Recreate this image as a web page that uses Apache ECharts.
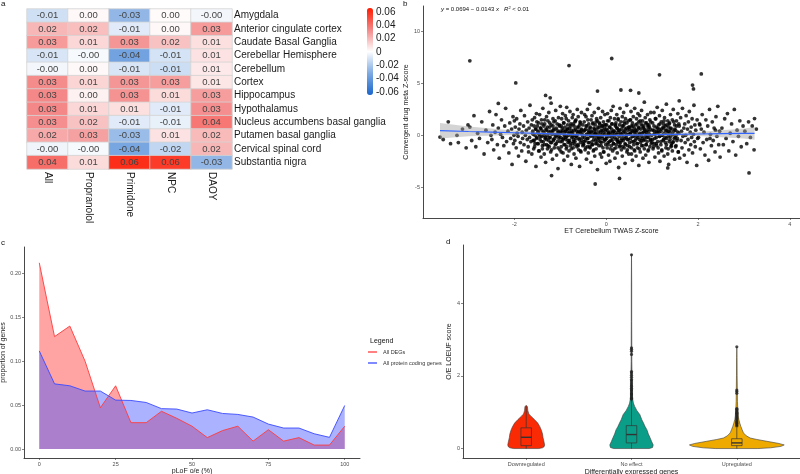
<!DOCTYPE html>
<html><head><meta charset="utf-8">
<script src="https://cdn.jsdelivr.net/npm/echarts@6/dist/echarts.min.js"></script>
<style>html,body{margin:0;padding:0;background:#fff}#c{width:800px;height:474px}</style>
</head><body><div id="c"></div>
<script>
const FONT = 'Liberation Sans, Arial, Helvetica, sans-serif';

// ---------- Panel a: heatmap ----------
const heatCols = ['All','Propranolol','Primidone','NPC','DAOY'];
const heatRows = ['Amygdala','Anterior cingulate cortex','Caudate Basal Ganglia','Cerebellar Hemisphere','Cerebellum','Cortex','Hippocampus','Hypothalamus','Nucleus accumbens basal ganglia','Putamen basal ganglia','Cervical spinal cord','Substantia nigra'];
const heatValues = [
  [-0.012, 0.002,-0.028, 0.001,-0.003],
  [ 0.020, 0.018,-0.008, 0.002, 0.028],
  [ 0.028, 0.011, 0.029, 0.017, 0.009],
  [-0.010,-0.002,-0.037,-0.011, 0.008],
  [-0.003, 0.002,-0.010,-0.013, 0.006],
  [ 0.032, 0.012, 0.029, 0.027, 0.007],
  [ 0.033, 0.004, 0.030, 0.010, 0.027],
  [ 0.033, 0.011, 0.009,-0.008, 0.031],
  [ 0.031, 0.017,-0.008,-0.006, 0.038],
  [ 0.024, 0.026,-0.026, 0.008, 0.019],
  [-0.004,-0.002,-0.035,-0.016, 0.020],
  [ 0.041, 0.010, 0.060, 0.056,-0.028]
];
const colorbarTicks = [-0.06,-0.04,-0.02,0,0.02,0.04,0.06];

// ---------- Panel b: scatter ----------
const scatterCloud = [
[-3.55,-0.4],[-3.44,1.3],[-3.39,-0.8],[-3.25,0.0],[-3.22,-0.7],[-3.13,0.6],[-3.05,-1.2],[-3.01,1.0],
[-2.97,0.8],[-2.93,-0.5],[-2.88,1.9],[-2.84,-1.1],[-2.8,0.2],[-2.76,-0.3],[-2.71,1.3],[-2.66,-1.8],[-2.62,0.5],[-2.58,-0.7],[-2.54,2.3],[-2.51,0.0],
[-2.49,-0.4],[-2.47,1.0],[-2.45,-1.4],[-2.42,0.3],[-2.4,2.0],[-2.37,-0.9],[-2.35,0.7],[-2.33,-2.2],[-2.3,0.1],[-2.28,1.5],[-2.26,-0.2],[-2.23,-1.0],[-2.21,0.9],[-2.19,2.6],[-2.17,-0.6],[-2.14,0.4],[-2.12,-1.7],[-2.1,1.2],[-2.08,-0.3],[-2.06,0.6],[-2.05,-2.8],[-2.03,1.8],[-2.02,-0.8],[-2.01,0.0],[-2.0,1.4],
[-1.99,-0.5],[-1.98,0.8],[-1.96,-1.2],[-1.95,1.6],[-1.94,0.2],[-1.92,-0.1],[-1.91,-2.0],[-1.9,0.6],[-1.88,1.1],[-1.87,-0.7],[-1.86,2.4],[-1.84,-1.5],[-1.83,0.3],[-1.82,-0.3],[-1.8,0.9],[-1.79,-0.9],[-1.78,1.9],[-1.76,0.0],[-1.75,-2.5],[-1.74,0.5],[-1.72,-0.4],[-1.71,1.3],[-1.7,-1.1],[-1.68,0.7],[-1.67,-0.2],[-1.66,2.9],[-1.64,-0.6],[-1.63,1.0],[-1.62,-1.8],[-1.6,0.4],[-1.59,0.1],[-1.58,-1.3],[-1.56,1.7],[-1.55,-0.8],[-1.54,0.6],[-1.53,-3.0],[-1.52,2.1],[-1.51,-0.2],[-1.5,0.9],[-1.57,-0.5],[-1.61,1.5],[-1.69,-1.6],
[-1.49,0.3],[-1.48,-0.8],[-1.47,1.2],[-1.46,-1.5],[-1.45,0.1],[-1.45,2.0],[-1.44,-0.4],[-1.43,0.7],[-1.42,-2.1],[-1.41,1.5],[-1.40,-0.1],[-1.40,0.5],[-1.39,-1.0],[-1.38,2.6],[-1.37,-0.6],[-1.36,0.9],[-1.35,-1.8],[-1.35,0.2],[-1.34,1.1],[-1.33,-0.3],[-1.32,-2.6],[-1.31,0.6],[-1.30,1.8],[-1.30,-0.9],[-1.29,0.0],[-1.28,-1.3],[-1.27,1.4],[-1.26,0.4],[-1.25,-0.5],[-1.25,2.2],[-1.24,-1.1],[-1.23,0.8],[-1.22,-0.2],[-1.21,-1.6],[-1.20,1.0],[-1.20,3.1],[-1.19,-0.7],[-1.18,0.3],[-1.17,-2.3],[-1.16,1.6],[-1.15,-0.4],[-1.15,0.5],[-1.14,1.3],[-1.13,-1.2],[-1.12,0.1],[-1.11,-0.9],[-1.10,2.4],[-1.10,-0.1],[-1.09,0.7],[-1.08,-1.9],[-1.07,1.1],[-1.06,-0.6],[-1.05,0.2],[-1.05,-3.2],[-1.04,1.7],[-1.03,-0.3],[-1.02,0.9],[-1.01,-1.4],[-1.00,0.4],[-1.00,2.8],
[-0.99,-0.2],[-0.98,0.9],[-0.98,-1.1],[-0.97,1.6],[-0.96,0.3],[-0.96,-0.6],[-0.95,2.1],[-0.94,-1.7],[-0.94,0.5],[-0.93,-0.3],[-0.92,1.2],[-0.92,-2.4],[-0.91,0.0],[-0.9,0.8],[-0.9,-0.9],[-0.89,1.9],[-0.88,-0.4],[-0.88,0.4],[-0.87,-1.3],[-0.86,2.7],[-0.86,-0.1],[-0.85,0.6],[-0.84,-2.0],[-0.84,1.0],[-0.83,-0.7],[-0.82,0.2],[-0.82,1.4],[-0.81,-1.5],[-0.8,0.7],[-0.8,-0.5],[-0.79,2.3],[-0.78,-1.0],[-0.78,0.1],[-0.77,1.1],[-0.76,-2.8],[-0.76,0.5],[-0.75,-0.2],[-0.74,1.7],[-0.74,-0.8],[-0.73,0.3],[-0.72,-1.2],[-0.72,2.0],[-0.71,-0.4],[-0.7,0.9],[-0.7,-1.8],[-0.69,0.0],[-0.68,1.3],[-0.68,-0.6],[-0.67,0.6],[-0.66,-2.2],[-0.66,1.5],[-0.65,-0.1],[-0.64,0.4],[-0.64,-1.1],[-0.63,2.5],[-0.62,-0.9],[-0.62,0.2],[-0.61,1.8],[-0.6,-1.4],[-0.6,0.8],[-0.59,-0.3],[-0.58,-3.0],[-0.58,1.0],[-0.57,0.3],[-0.56,-0.7],[-0.56,1.2],[-0.55,-1.6],[-0.54,0.5],[-0.54,2.2],[-0.53,-0.5],[-0.52,0.1],[-0.51,-1.0],
[-0.49,0.4],[-0.49,-0.9],[-0.48,1.3],[-0.47,-0.2],[-0.47,2.0],[-0.46,-1.4],[-0.45,0.6],[-0.45,-0.5],[-0.44,1.8],[-0.43,-2.3],[-0.43,0.1],[-0.42,0.9],[-0.41,-1.1],[-0.41,2.5],[-0.4,-0.3],[-0.39,0.5],[-0.39,-1.7],[-0.38,1.1],[-0.37,-0.7],[-0.37,0.2],[-0.36,3.0],[-0.35,-1.2],[-0.35,0.8],[-0.34,-0.1],[-0.33,1.5],[-0.33,-2.6],[-0.32,0.3],[-0.31,-0.6],[-0.31,1.9],[-0.3,-0.9],[-0.29,0.0],[-0.29,1.2],[-0.28,-1.5],[-0.27,0.7],[-0.27,-0.4],[-0.26,2.2],[-0.25,-2.0],[-0.25,0.4],[-0.24,1.0],[-0.23,-0.8],[-0.23,0.1],[-0.22,-1.3],[-0.21,1.6],[-0.21,-0.2],[-0.2,0.6],[-0.19,-3.3],[-0.19,1.4],[-0.18,-0.5],[-0.17,0.3],[-0.17,2.6],[-0.16,-1.0],[-0.15,0.8],[-0.15,-0.3],[-0.14,1.1],[-0.13,-1.8],[-0.13,0.0],[-0.12,1.7],[-0.11,-0.7],[-0.11,0.5],[-0.1,-2.1],[-0.09,0.9],[-0.09,-0.1],[-0.08,2.3],[-0.07,-1.2],[-0.07,0.2],[-0.06,1.3],[-0.05,-0.6],[-0.05,-1.6],[-0.04,0.7],[-0.03,2.0],[-0.03,-0.4],[-0.02,0.4],[-0.01,-0.9],[-0.01,1.0],[0.0,-2.7],[-0.25,0.1],
[0.01,-0.3],[0.01,1.0],[0.02,-1.2],[0.03,0.5],[0.03,2.1],[0.04,-0.7],[0.05,0.2],[0.05,-1.9],[0.06,1.4],[0.07,-0.1],[0.07,0.8],[0.08,-2.5],[0.09,0.3],[0.09,1.7],[0.1,-0.5],[0.11,-1.0],[0.11,2.4],[0.12,0.6],[0.13,-0.2],[0.13,1.1],[0.14,-1.5],[0.15,0.0],[0.15,2.8],[0.16,-0.8],[0.17,0.4],[0.17,-1.3],[0.18,1.6],[0.19,0.1],[0.19,-2.2],[0.2,0.9],[0.21,-0.4],[0.21,1.2],[0.22,-0.9],[0.23,0.7],[0.23,2.0],[0.24,-1.7],[0.25,0.3],[0.25,-0.6],[0.26,1.5],[0.27,-3.1],[0.27,0.5],[0.28,-0.1],[0.29,1.0],[0.29,-1.1],[0.3,2.6],[0.31,0.2],[0.31,-0.7],[0.32,1.3],[0.33,-1.4],[0.33,0.6],[0.34,-0.3],[0.35,1.8],[0.35,-2.0],[0.36,0.0],[0.37,0.9],[0.37,-0.5],[0.38,2.2],[0.39,-1.2],[0.39,0.4],[0.4,1.1],[0.41,-0.8],[0.41,-2.7],[0.42,1.6],[0.43,0.2],[0.43,-0.2],[0.44,0.7],[0.45,-1.6],[0.45,2.9],[0.46,-0.4],[0.47,0.5],[0.47,-1.0],[0.48,1.4],[0.49,0.1],[0.49,-1.8],[0.5,0.8],[0.26,-0.6],
[0.51,0.6],[0.51,-1.1],[0.52,1.5],[0.53,-0.3],[0.53,0.2],[0.54,2.3],[0.55,-1.8],[0.55,0.9],[0.56,-0.6],[0.57,1.2],[0.57,-2.4],[0.58,0.4],[0.59,-0.1],[0.59,1.8],[0.6,-0.9],[0.61,0.7],[0.61,-1.4],[0.62,2.6],[0.63,0.0],[0.63,-0.5],[0.64,1.0],[0.65,-2.0],[0.65,0.3],[0.66,1.6],[0.67,-0.8],[0.67,0.5],[0.68,-1.2],[0.69,2.1],[0.69,-0.2],[0.7,0.8],[0.71,-2.9],[0.71,1.3],[0.72,-0.4],[0.73,0.1],[0.73,1.9],[0.74,-1.6],[0.75,0.6],[0.75,-0.7],[0.76,1.1],[0.77,-1.0],[0.77,2.4],[0.78,0.2],[0.79,-0.3],[0.79,1.4],[0.8,-2.2],[0.81,0.7],[0.81,-0.5],[0.82,0.9],[0.83,-1.3],[0.83,3.2],[0.84,0.4],[0.85,-0.1],[0.85,1.7],[0.86,-1.9],[0.87,0.3],[0.87,-0.9],[0.88,1.2],[0.89,-0.6],[0.89,0.5],[0.9,2.0],[0.91,-1.5],[0.91,0.8],[0.92,-0.2],[0.93,1.0],[0.93,-2.6],[0.94,0.1],[0.95,1.5],[0.95,-1.1],[0.96,0.6],[0.97,-0.4],[0.97,2.2],[0.98,-0.8],
[1.01,-0.4],[1.01,1.2],[1.02,-1.3],[1.04,0.5],[1.04,2.2],[1.05,-0.8],[1.06,0.1],[1.06,-2.1],[1.07,1.6],[1.09,-0.2],[1.09,0.8],[1.1,-1.0],[1.11,2.7],[1.11,0.3],[1.12,-0.6],[1.14,1.0],[1.14,-1.7],[1.15,0.6],[1.16,-0.1],[1.16,1.9],[1.17,-2.5],[1.19,0.4],[1.19,-0.9],[1.2,1.3],[1.21,0.0],[1.21,-1.4],[1.22,2.4],[1.24,0.7],[1.24,-0.5],[1.25,1.1],[1.26,-2.0],[1.26,0.2],[1.27,1.7],[1.29,-0.7],[1.29,0.9],[1.3,-1.2],[1.31,3.0],[1.31,-0.3],[1.32,0.5],[1.34,-1.8],[1.34,1.4],[1.35,-0.1],[1.36,0.8],[1.36,-2.8],[1.37,1.1],[1.39,-0.4],[1.39,0.3],[1.4,2.0],[1.41,-1.1],[1.41,0.6],[1.42,-0.8],[1.44,1.5],[1.44,-1.5],[1.45,0.1],[1.46,2.5],[1.46,-0.6],[1.47,0.4],[1.49,-2.3],[1.49,1.0],[1.5,-0.2],
[1.51,0.5],[1.52,-1.0],[1.53,1.4],[1.55,-0.3],[1.56,2.1],[1.57,-1.6],[1.58,0.2],[1.59,0.9],[1.6,-2.2],[1.62,1.7],[1.63,-0.5],[1.64,0.4],[1.65,-1.2],[1.66,2.6],[1.67,-0.1],[1.69,0.7],[1.7,-1.9],[1.71,1.1],[1.72,-0.7],[1.73,0.0],[1.74,1.9],[1.76,-2.6],[1.77,0.6],[1.78,-0.4],[1.79,1.3],[1.8,-1.4],[1.81,2.3],[1.83,0.3],[1.84,-0.9],[1.85,0.8],[1.86,-0.2],[1.87,1.6],[1.88,-1.7],[1.9,0.1],[1.91,2.9],[1.92,-0.6],[1.93,1.0],[1.94,-1.1],[1.95,0.5],[1.97,-2.9],[1.98,1.5],[1.99,-0.3],
[2.01,-0.2],[2.03,1.1],[2.05,-1.3],[2.07,0.6],[2.09,2.0],[2.11,-0.7],[2.13,0.3],[2.15,-1.9],[2.17,1.5],[2.19,-0.4],[2.21,0.9],[2.23,-2.4],[2.25,2.5],[2.27,0.1],[2.29,-1.0],[2.31,1.3],[2.33,-0.5],[2.35,0.7],[2.37,-1.6],[2.39,1.8],[2.41,-0.1],[2.43,2.8],[2.45,-0.9],[2.47,0.4],[2.48,-2.1],[2.04,1.0],[2.26,-0.3],[2.38,0.5],
[2.52,0.7],[2.55,-0.9],[2.58,1.6],[2.61,-0.3],[2.64,2.1],[2.67,-1.5],[2.7,0.2],[2.73,1.1],[2.76,-0.6],[2.79,2.5],[2.82,-1.9],[2.85,0.5],[2.88,-0.1],[2.91,1.4],[2.94,-1.1],[2.98,0.9],
[3.02,0.4],[3.06,-0.8],[3.1,1.3],[3.14,-0.2],[3.18,0.9],[3.22,-1.4],[3.27,0.6]
];
const scatterCore = [
[-1.6,0.2],[-1.59,-0.5],[-1.57,0.9],[-1.56,-1.1],[-1.55,0.0],[-1.53,0.6],[-1.52,-0.3],[-1.51,1.3],[-1.5,-0.8],[-1.48,0.4],[-1.47,-1.5],[-1.46,0.1],
[-1.44,-0.1],[-1.43,0.7],[-1.41,-0.6],[-1.4,1.1],[-1.39,-1.3],[-1.37,0.3],[-1.36,0.0],[-1.35,-0.9],[-1.34,1.5],[-1.32,-0.2],[-1.31,0.5],[-1.3,-0.4],
[-1.28,0.8],[-1.27,-1.0],[-1.25,0.2],[-1.24,-0.2],[-1.23,1.2],[-1.21,-0.7],[-1.2,0.4],[-1.19,-1.4],[-1.18,0.1],[-1.16,0.9],[-1.15,-0.5],[-1.14,0.6],
[-1.12,-0.3],[-1.11,1.4],[-1.09,-0.8],[-1.08,0.0],[-1.07,0.5],[-1.05,-1.2],[-1.04,0.3],[-1.03,-0.1],[-1.02,1.0],[-1.0,-0.6],[-0.99,0.2],[-0.98,-1.6],
[-0.96,0.7],[-0.95,-0.4],[-0.93,1.2],[-0.92,-0.9],[-0.91,0.1],[-0.89,0.4],[-0.88,-0.2],[-0.87,1.6],[-0.86,-1.1],[-0.84,0.6],[-0.83,-0.5],[-0.82,0.0],
[-0.8,0.3],[-0.79,-0.7],[-0.77,0.9],[-0.76,-1.3],[-0.75,0.2],[-0.73,-0.1],[-0.72,1.1],[-0.71,-0.6],[-0.7,0.5],[-0.68,-0.9],[-0.67,1.4],[-0.66,-0.3],
[-0.64,0.0],[-0.63,0.8],[-0.61,-1.0],[-0.6,0.4],[-0.59,-0.4],[-0.57,1.3],[-0.56,-1.5],[-0.55,0.2],[-0.54,0.6],[-0.52,-0.2],[-0.51,1.0],[-0.5,-0.8],
[-0.48,-0.6],[-0.47,0.5],[-0.45,-1.2],[-0.44,0.9],[-0.43,0.1],[-0.41,-0.3],[-0.4,1.5],[-0.39,-0.7],[-0.38,0.3],[-0.36,-1.1],[-0.35,0.7],[-0.34,0.0],
[-0.32,0.4],[-0.31,-0.9],[-0.29,1.1],[-0.28,-0.1],[-0.27,-1.4],[-0.25,0.6],[-0.24,0.2],[-0.23,-0.5],[-0.22,1.3],[-0.2,-0.8],[-0.19,0.0],[-0.18,0.8],
[-0.16,-0.2],[-0.15,1.2],[-0.13,-0.6],[-0.12,0.3],[-0.11,-1.0],[-0.09,0.9],[-0.08,-0.3],[-0.07,0.5],[-0.06,-1.6],[-0.04,1.0],[-0.03,0.1],[-0.02,-0.4],
[0.0,0.6],[0.01,-0.1],[0.03,1.4],[0.04,-0.9],[0.05,0.2],[0.07,-0.6],[0.08,0.8],[0.09,-1.3],[0.1,0.0],[0.12,1.1],[0.13,-0.5],[0.14,0.3],
[0.16,-0.8],[0.17,0.4],[0.19,-0.2],[0.2,1.0],[0.21,-1.2],[0.23,0.1],[0.24,0.7],[0.25,-0.4],[0.26,1.6],[0.28,-0.7],[0.29,0.5],[0.3,-1.0],
[0.32,0.1],[0.33,-0.5],[0.35,0.9],[0.36,-1.1],[0.37,0.3],[0.39,1.3],[0.4,-0.3],[0.41,0.6],[0.42,-0.9],[0.44,0.0],[0.45,1.2],[0.46,-1.4],
[0.48,-0.4],[0.49,0.8],[0.51,-0.7],[0.52,0.2],[0.53,1.5],[0.55,-1.2],[0.56,0.5],[0.57,-0.1],[0.58,0.9],[0.6,-0.6],[0.61,0.3],[0.62,-1.5],
[0.64,0.5],[0.65,-0.3],[0.67,1.1],[0.68,-0.8],[0.69,0.0],[0.71,0.7],[0.72,-1.3],[0.73,0.2],[0.74,1.4],[0.76,-0.5],[0.77,-0.1],[0.78,0.9],
[0.8,-1.0],[0.81,0.3],[0.83,0.6],[0.84,-0.4],[0.85,1.2],[0.87,-0.9],[0.88,0.1],[0.89,-0.2],[0.9,1.0],[0.92,-1.4],[0.93,0.4],[0.94,0.8],
[0.96,-0.5],[0.97,1.3],[0.99,0.0],[1.0,-0.7],[1.01,0.5],[1.03,-1.1],[1.04,0.9],[1.05,0.2],[1.06,-0.3],[1.08,1.6],[1.09,-0.8],[1.1,0.4],
[1.12,0.7],[1.13,-1.2],[1.15,0.3],[1.16,-0.1],[1.17,1.1],[1.19,-0.6],[1.2,0.6],[1.21,-1.5],[1.22,0.0],[1.24,0.8],[1.25,-0.4],[1.26,1.4],
[1.28,-0.2],[1.29,0.5],[1.31,-0.9],[1.32,1.0],[1.33,0.2],[1.35,-1.3],[1.36,0.4],[1.37,-0.6],[1.38,1.2],[1.4,-0.1],[1.41,0.7],[1.42,-1.0],
[1.44,0.1],[1.45,-0.7],[1.47,1.3],[1.48,-0.3],[1.49,0.6],[1.51,-1.1],[1.52,0.0],[1.53,0.9],[1.54,-0.5],[1.56,0.3],[1.57,-1.6],[1.58,1.1]
];
const scatterOutliers = [[-3.62,-0.17],[-2.97,7.18],[-0.81,6.73],[0.12,7.41],[-1.97,5.05],[1.16,5.83],[2.07,5.92],[1.88,4.85],[1.9,4.47],[0.32,4.37],[0.53,4.34],[0.71,4.08],[-0.19,4.27],[-1.32,3.85],[-1.22,3.62],[-2.35,3.08],[1.59,3.33],[-1.19,-3.88],[-0.24,-4.69],[0.29,-4.15],[3.11,-3.62],[1.34,-3.14],[3.23,1.62]];
const smoothX   = [-3.62,-3.0,-2.0,-1.0, 0.0, 1.0, 2.0, 3.0, 3.23];
const smoothFit = [ 0.45, 0.37, 0.25, 0.11,-0.02, 0.06, 0.13, 0.18, 0.19];
const smoothLo  = [-0.30,-0.10, 0.04,-0.02,-0.13,-0.06,-0.07,-0.30,-0.42];
const smoothHi  = [ 1.20, 0.84, 0.46, 0.24, 0.09, 0.18, 0.33, 0.66, 0.80];
const bXTicks = [-2,0,2,4];
const bYTicks = [-5,0,5,10];

// ---------- Panel c: area ----------
const plofX   = [0,5,10,15,20,25,30,35,40,45,50,55,60,65,70,75,80,85,90,95,100];
const degProp = [0.212,0.128,0.140,0.100,0.047,0.072,0.030,0.030,0.043,0.035,0.026,0.013,0.021,0.026,0.009,0.022,0.009,0.013,0.0045,0.0045,0.026];
const pcProp  = [0.1117,0.0742,0.072,0.066,0.066,0.0557,0.0553,0.053,0.046,0.0455,0.041,0.0447,0.0405,0.0394,0.0364,0.0284,0.0239,0.0239,0.0174,0.0133,0.0496];
const cXTicks = [0,25,50,75,100];
const cYTicks = [0,0.05,0.10,0.15,0.20];

// ---------- Panel d: violins ----------
const violinCats = ['Downregulated','No effect','Upregulated'];
const violinColors = ['#FA2A05','#0A9E88','#EFAA00'];
const violinDown = [[0,0.12],[0.02,0.155],[0.05,0.17],[0.1,0.175],[0.2,0.168],[0.3,0.16],[0.4,0.155],[0.5,0.145],[0.6,0.13],[0.7,0.11],[0.8,0.078],[0.89,0.045],[0.95,0.025],[1.05,0.015],[1.15,0.012],[1.19,0]];
const violinNoEffect = [[0,0.17],[0.03,0.2],[0.1,0.206],[0.2,0.19],[0.3,0.176],[0.4,0.16],[0.52,0.146],[0.6,0.13],[0.7,0.114],[0.8,0.097],[0.93,0.08],[1.05,0.05],[1.16,0.03],[1.25,0.018],[1.35,0.012],[1.5,0.008],[1.8,0.006],[2.1,0.005],[2.4,0.003],[2.8,0.003],[3.5,0.002],[4.5,0.002],[5.35,0]];
const violinUp = [[0,0.2],[0.02,0.32],[0.06,0.42],[0.1,0.45],[0.14,0.4],[0.2,0.285],[0.25,0.19],[0.29,0.127],[0.35,0.09],[0.43,0.063],[0.52,0.05],[0.61,0.038],[0.7,0.028],[0.8,0.019],[0.9,0.014],[1.0,0.012],[1.1,0.009],[1.3,0.006],[1.6,0.005],[2.0,0.003],[2.5,0.002],[2.8,0]];
const violinProfiles = [violinDown, violinNoEffect, violinUp];
// [lower whisker, q1, median, q3, upper whisker]
const boxStats = [[0.0,0.08,0.31,0.57,1.17],[0.0,0.155,0.385,0.63,1.34],[0.0,0.08,0.155,0.27,0.58]];
const noEffectOutliers = [1.36,1.38,1.42,1.47,1.5,1.53,1.58,1.62,1.66,1.71,1.75,1.8,1.86,1.9,1.96,2.02,2.08,2.12,2.59,2.68,2.73,2.77,5.33];
const upOutliers = [0.62,0.65,0.68,0.7,0.73,0.76,0.8,0.83,0.87,0.9,0.94,0.97,1.0,1.04,1.08,1.1,1.52,1.57,1.61,2.8];
const dYTicks = [0,2,4];

// ---------- helpers ----------
function ggAxis(gridIndex, min, max, ticks, fmt, name, nameGap){
  return {
    type:'value', gridIndex:gridIndex, min:min, max:max,
    name:name, nameLocation:'middle', nameGap:nameGap,
    nameTextStyle:{fontSize:7, color:'#1a1a1a', fontFamily:FONT},
    axisLine:{show:true, onZero:false, lineStyle:{color:'#333', width:0.9}},
    axisTick:{show:true, length:2, customValues:ticks, lineStyle:{color:'#333', width:0.6}},
    axisLabel:{fontSize:5.5, color:'#4d4d4d', margin:3, fontFamily:FONT, customValues:ticks, formatter:fmt},
    splitLine:{show:false}
  };
}

const heatData = [];
heatValues.forEach((row, r) => row.forEach((v, c) => heatData.push([c, r, v])));

const chart = echarts.init(document.getElementById('c'), null, {renderer:'canvas'});
const option = {
  animation:false,
  backgroundColor:'#fff',
  textStyle:{fontFamily:FONT},
  title:[
    {text:'a', left:1, top:0, padding:0, textStyle:{fontSize:8, fontWeight:'normal', color:'#111', fontFamily:FONT}},
    {text:'b', left:403, top:0, padding:0, textStyle:{fontSize:8, fontWeight:'normal', color:'#111', fontFamily:FONT}},
    {text:'c', left:1, top:239, padding:0, textStyle:{fontSize:8, fontWeight:'normal', color:'#111', fontFamily:FONT}},
    {text:'d', left:446, top:238, padding:0, textStyle:{fontSize:8, fontWeight:'normal', color:'#111', fontFamily:FONT}},
    {text:'{i|y} = 0.0694 \u2212 0.0143 {i|x}   {i|R}{s|2} < 0.01', left:441, top:6, padding:0,
      textStyle:{fontSize:6, fontWeight:'normal', color:'#111', fontFamily:FONT,
        rich:{i:{fontStyle:'italic', fontSize:6, fontFamily:FONT}, s:{fontSize:4, verticalAlign:'top', fontFamily:FONT}}}},
    {text:'Legend', left:370, top:338, padding:0, textStyle:{fontSize:7, fontWeight:'normal', color:'#111', fontFamily:FONT}}
  ],
  grid:[
    {left:27, top:9, width:205, height:160, outerBoundsMode:'none'},
    {left:423, top:6, width:377, height:212, outerBoundsMode:'none'},
    {left:24, top:247, width:336, height:211, outerBoundsMode:'none'},
    {left:463, top:245, width:337, height:213, outerBoundsMode:'none'},
    {left:373, top:12, width:1, height:80, outerBoundsMode:'none'}
  ],
  visualMap:{
    type:'continuous', seriesIndex:0, min:-0.066, max:0.066, calculable:false,
    left:367, top:8, itemWidth:6, itemHeight:87, padding:0, text:null,
    inRange:{color:['#1a66cc','#7eaae2','#ffffff','#f48888','#ff1a00']}, textStyle:{fontSize:0}
  },
  legend:{
    left:368, top:349, orient:'vertical', itemGap:5, itemWidth:9, itemHeight:1.3, icon:'rect',
    padding:0, data:['All DEGs','All protein coding genes'],
    textStyle:{fontSize:5.5, color:'#333', fontFamily:FONT, padding:[0,0,0,1]}
  },
  xAxis:[
    {type:'category', gridIndex:0, data:heatCols, position:'bottom',
      axisLine:{show:false}, axisTick:{show:false}, splitLine:{show:false},
      axisLabel:{rotate:-90, fontSize:10, color:'#1a1a1a', margin:3, fontFamily:FONT}},
    ggAxis(1, -3.99, 4.22, bXTicks, v=>String(v), 'ET Cerebellum TWAS Z-score', 9),
    ggAxis(2, -5, 105, cXTicks, v=>String(v), 'pLoF o/e (%)', 10),
    ggAxis(3, 0.4, 3.6, [1,2,3], v=>violinCats[Math.round(v)-1], 'Differentially expressed genes', 11),
    {type:'value', gridIndex:4, show:false, min:0, max:1}
  ],
  yAxis:[
    {type:'category', gridIndex:0, data:heatRows, inverse:true, position:'right',
      axisLine:{show:false}, axisTick:{show:false}, splitLine:{show:false},
      axisLabel:{fontSize:10, color:'#1a1a1a', margin:2, fontFamily:FONT}},
    ggAxis(1, -7.97, 12.47, bYTicks, v=>String(v), 'Convergent drug meta Z-score', 12),
    ggAxis(2, -0.0102, 0.23, cYTicks, v=>v.toFixed(2), 'proportion of genes', 16),
    ggAxis(3, -0.26, 5.6, dYTicks, v=>String(v), 'O/E LOEUF score', 9),
    {type:'value', gridIndex:4, min:-0.06, max:0.06, position:'right',
      axisLine:{show:false}, axisTick:{show:false}, splitLine:{show:false},
      axisLabel:{fontSize:10, color:'#1a1a1a', margin:2, fontFamily:FONT, customValues:colorbarTicks,
        formatter:v=>Math.abs(v)<1e-9 ? '0' : v.toFixed(2)}}
  ],
  series:[
    {type:'heatmap', xAxisIndex:0, yAxisIndex:0, data:heatData,
      itemStyle:{borderColor:'#d4d4d4', borderWidth:0.8},
      label:{show:true, formatter:p=>p.value[2].toFixed(2), fontSize:9.5, color:'#444', fontFamily:FONT},
      emphasis:{disabled:true}},
    {type:'scatter', xAxisIndex:1, yAxisIndex:1, data:scatterCloud, symbolSize:3.8,
      itemStyle:{color:'#000'}, silent:true, z:2},
    {type:'scatter', xAxisIndex:1, yAxisIndex:1, data:scatterCore, symbolSize:3.8,
      itemStyle:{color:'#000'}, silent:true, z:2},
    {type:'scatter', xAxisIndex:1, yAxisIndex:1, data:scatterOutliers, symbolSize:3.8,
      itemStyle:{color:'#000'}, silent:true, z:2},
    {type:'custom', xAxisIndex:1, yAxisIndex:1, data:[[0,0]], silent:true, z:3,
      renderItem:function(params, api){
        const pts = [];
        for (let i=0;i<smoothX.length;i++) pts.push(api.coord([smoothX[i], smoothHi[i]]));
        for (let i=smoothX.length-1;i>=0;i--) pts.push(api.coord([smoothX[i], smoothLo[i]]));
        return {type:'polygon', shape:{points:pts}, style:{fill:'rgba(160,160,160,0.45)'}};
      }},
    {type:'line', xAxisIndex:1, yAxisIndex:1, data:smoothX.map((x,i)=>[x, smoothFit[i]]),
      smooth:true, symbol:'none', lineStyle:{color:'#3366FF', width:1.2}, silent:true, z:4},
    {type:'line', name:'All DEGs', xAxisIndex:2, yAxisIndex:2, data:plofX.map((x,i)=>[x, degProp[i]]),
      symbol:'none', lineStyle:{color:'#ff3b3b', width:0.9}, itemStyle:{color:'#ff3b3b'},
      areaStyle:{color:'#ff3333', opacity:0.45, origin:0}, silent:true},
    {type:'line', name:'All protein coding genes', xAxisIndex:2, yAxisIndex:2, data:plofX.map((x,i)=>[x, pcProp[i]]),
      symbol:'none', lineStyle:{color:'#3b4bff', width:0.9}, itemStyle:{color:'#3b4bff'},
      areaStyle:{color:'#4455ff', opacity:0.45, origin:0}, silent:true},
    {type:'custom', xAxisIndex:3, yAxisIndex:3, data:[[1,0],[2,0],[3,0]], silent:true, z:2,
      renderItem:function(params, api){
        const i = params.dataIndex;
        const prof = violinProfiles[i];
        const cx = api.coord([i+1,0])[0];
        const unit = api.coord([i+2,0])[0] - cx;
        const right = prof.map(p => [cx + p[1]*unit, api.coord([i+1,p[0]])[1]]);
        const left = prof.slice().reverse().map(p => [cx - p[1]*unit, api.coord([i+1,p[0]])[1]]);
        return {type:'polygon', shape:{points:right.concat(left)},
          style:{fill:violinColors[i], stroke:'#3a3a3a', lineWidth:0.6}};
      }},
    {type:'custom', xAxisIndex:3, yAxisIndex:3, data:[[1,0],[2,0],[3,0]], silent:true, z:3,
      renderItem:function(params, api){
        const i = params.dataIndex;
        const b = boxStats[i];
        const cx = api.coord([i+1,0])[0];
        const unit = api.coord([i+2,0])[0] - cx;
        const hw = 0.05*unit;
        const y = v => api.coord([i+1,v])[1];
        const st = {stroke:'#333', lineWidth:0.7};
        return {type:'group', children:[
          {type:'line', shape:{x1:cx,y1:y(b[3]),x2:cx,y2:y(b[4])}, style:st},
          {type:'line', shape:{x1:cx,y1:y(b[0]),x2:cx,y2:y(b[1])}, style:st},
          {type:'rect', shape:{x:cx-hw, y:y(b[3]), width:2*hw, height:y(b[1])-y(b[3])}, style:{fill:'none', stroke:'#333', lineWidth:0.7}},
          {type:'line', shape:{x1:cx-hw,y1:y(b[2]),x2:cx+hw,y2:y(b[2])}, style:{stroke:'#333', lineWidth:1.4}}
        ]};
      }},
    {type:'scatter', xAxisIndex:3, yAxisIndex:3, symbolSize:3.2, itemStyle:{color:'#222'}, silent:true, z:4,
      data: noEffectOutliers.map(v=>[2,v]).concat(upOutliers.map(v=>[3,v]))}
  ]
};
chart.setOption(option);
</script>
</body></html>
